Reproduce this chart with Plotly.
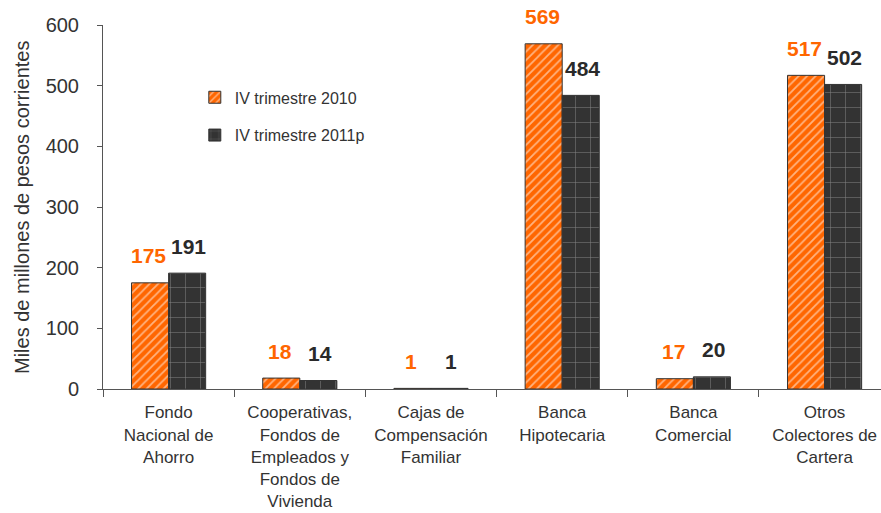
import plotly.graph_objects as go

categories = [
    "Fondo<br>Nacional de<br>Ahorro",
    "Cooperativas,<br>Fondos de<br>Empleados y<br>Fondos de<br>Vivienda",
    "Cajas de<br>Compensación<br>Familiar",
    "Banca<br>Hipotecaria",
    "Banca<br>Comercial",
    "Otros<br>Colectores de<br>Cartera",
]
series_2010 = [175, 18, 1, 569, 17, 517]
series_2011 = [191, 14, 1, 484, 20, 502]
name_2010 = "IV trimestre 2010"
name_2011 = "IV trimestre 2011p"
y_title = "Miles de millones de pesos corrientes"
y_ticks = [0, 100, 200, 300, 400, 500, 600]

ORANGE = "#FF6600"
DARK = "#333333"
FONT = "Liberation Sans, Arial, sans-serif"

fig = go.Figure()
fig.add_trace(go.Bar(
    x=categories, y=series_2010, name=name_2010, legendgroup="a",
    marker=dict(color=ORANGE, line=dict(color=DARK, width=1),
                pattern=dict(shape="/", fgcolor="white", bgcolor=ORANGE, size=6, solidity=0.3)),
))
fig.add_trace(go.Bar(
    x=categories, y=series_2011, name=name_2011, legendgroup="b",
    marker=dict(color=DARK, line=dict(color=DARK, width=1),
                pattern=dict(shape="+", fgcolor="#d0d0d0", bgcolor=DARK, size=15, solidity=0.07)),
))

annotations = []
for c, v in zip(categories, series_2010):
    annotations.append(dict(x=c, y=v, xref="x", yref="y", text=f"<b>{v}</b>", showarrow=False,
                            xshift=-20, yshift=27, font=dict(family=FONT, size=21, color=ORANGE)))
for c, v in zip(categories, series_2011):
    annotations.append(dict(x=c, y=v, xref="x", yref="y", text=f"<b>{v}</b>", showarrow=False,
                            xshift=20, yshift=27, font=dict(family=FONT, size=21, color="#2a2a2a")))
annotations.append(dict(x=0, y=0.5, xref="paper", yref="paper", text=y_title, textangle=-90,
                        showarrow=False, xanchor="center", yanchor="middle", xshift=-81,
                        font=dict(family=FONT, size=20, color="#333333")))

fig.update_layout(
    width=881, height=513,
    margin=dict(l=103, r=0, t=25, b=124),
    paper_bgcolor="white", plot_bgcolor="white",
    barmode="group", bargap=0.435, bargroupgap=0,
    font=dict(family=FONT, color="#333333"),
    showlegend=True,
    legend=dict(x=0.118, y=0.749, xanchor="left", yanchor="middle", tracegroupgap=14,
                font=dict(family=FONT, size=16, color="#333333"), bgcolor="rgba(0,0,0,0)",
                itemwidth=30),
    annotations=annotations,
)
fig.update_xaxes(
    range=[-0.5, 5.43], showline=True, linecolor="#555555", linewidth=1,
    ticks="outside", tickson="boundaries", ticklen=7, tickcolor="#555555",
    tickfont=dict(family=FONT, size=17, color="#333333"), showgrid=False,
    ticklabelstandoff=8, automargin=False,
)
fig.update_yaxes(
    range=[0, 600], tickvals=y_ticks, showline=True, linecolor="#555555", linewidth=1,
    ticks="outside", ticklen=5, tickcolor="#555555", showgrid=False, zeroline=False,
    tickfont=dict(family=FONT, size=20, color="#333333"), ticklabelstandoff=14,
    automargin=False,
)
fig.write_html("out.html", config={"displayModeBar": False},
               post_script="document.body.style.margin='0';document.body.style.overflow='hidden';")
